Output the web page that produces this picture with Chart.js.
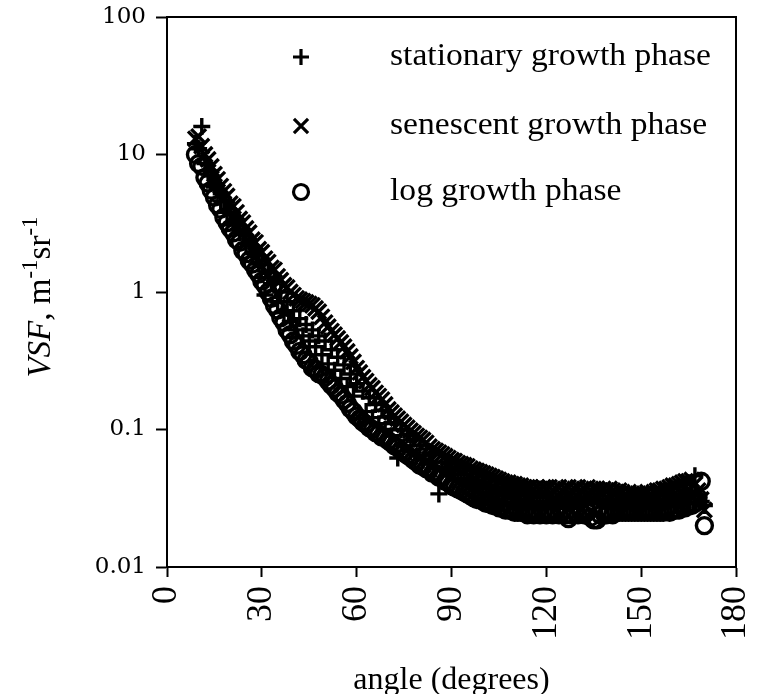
<!DOCTYPE html>
<html>
<head>
<meta charset="utf-8">
<script src="https://cdn.jsdelivr.net/npm/chart.js@4.4.1/dist/chart.umd.min.js"></script>
<style>
  html, body { margin: 0; padding: 0; background: #fff; }
  #chartVsf { display: block; }
</style>
</head>
<body>
<canvas id="chartVsf" width="762" height="694"></canvas>
<script>
// ===========================================
// VSF vs ângulo - três fases de crescimento
// ===========================================

const xTicks = [0, 30, 60, 90, 120, 150, 180];
const yTicks = [0.01, 0.1, 1, 10, 100];
const yTickLabels = ['0.01', '0.1', '1', '10', '100'];

const seriesNames = ['stationary growth phase', 'senescent growth phase', 'log growth phase'];

// ângulos medidos (graus), comuns às três séries
const angleDeg = [
    9, 10, 11, 12, 13, 14, 15, 16, 17, 18,
    19, 20, 21, 22, 23, 24, 25, 26, 27, 28,
    29, 30, 31, 32, 33, 34, 35, 36, 37, 38,
    39, 40, 41, 42, 43, 44, 45, 46, 47, 48,
    49, 50, 51, 52, 53, 54, 55, 56, 57, 58,
    59, 60, 61, 62, 63, 64, 65, 66, 67, 68,
    69, 70, 71, 72, 73, 74, 75, 76, 77, 78,
    79, 80, 81, 82, 83, 84, 85, 86, 87, 88,
    89, 90, 91, 92, 93, 94, 95, 96, 97, 98,
    99, 100, 101, 102, 103, 104, 105, 106, 107, 108,
    109, 110, 111, 112, 113, 114, 115, 116, 117, 118,
    119, 120, 121, 122, 123, 124, 125, 126, 127, 128,
    129, 130, 131, 132, 133, 134, 135, 136, 137, 138,
    139, 140, 141, 142, 143, 144, 145, 146, 147, 148,
    149, 150, 151, 152, 153, 154, 155, 156, 157, 158,
    159, 160, 161, 162, 163, 164, 165, 166, 167, 168,
    169, 170];

// stationary (+)
const stationaryVsf = [
    12, 11, 16, 8.6, 7.6, 7.0, 5.8, 5.6, 4.6, 4.6,
    3.8, 3.8, 3.2, 3.2, 2.7, 2.7, 2.25, 2.3, 1.9, 1.95,
    1.6, 1.6, 0.95, 1.4, 1.15, 1.2, 0.85, 1.0, 0.71, 0.85,
    0.61, 0.73, 0.53, 0.64, 0.48, 0.58, 0.44, 0.53, 0.4, 0.48,
    0.35, 0.44, 0.3, 0.38, 0.27, 0.335, 0.235, 0.295, 0.205, 0.253,
    0.175, 0.215, 0.12, 0.19, 0.135, 0.17, 0.122, 0.152, 0.11, 0.138,
    0.1, 0.124, 0.09, 0.112, 0.062, 0.1, 0.075, 0.092, 0.069, 0.085,
    0.064, 0.077, 0.06, 0.072, 0.056, 0.066, 0.052, 0.034, 0.05, 0.058,
    0.05, 0.053, 0.047, 0.05, 0.044, 0.047, 0.042, 0.044, 0.04, 0.042,
    0.038, 0.04, 0.037, 0.039, 0.035, 0.037, 0.034, 0.036, 0.033, 0.035,
    0.032, 0.034, 0.031, 0.033, 0.03, 0.033, 0.03, 0.032, 0.03, 0.033,
    0.03, 0.032, 0.03, 0.032, 0.029, 0.031, 0.03, 0.032, 0.029, 0.031,
    0.03, 0.032, 0.029, 0.031, 0.03, 0.032, 0.029, 0.031, 0.03, 0.031,
    0.029, 0.031, 0.03, 0.031, 0.029, 0.03, 0.029, 0.03, 0.029, 0.03,
    0.029, 0.03, 0.029, 0.03, 0.029, 0.03, 0.03, 0.031, 0.03, 0.031,
    0.031, 0.032, 0.031, 0.033, 0.032, 0.034, 0.033, 0.035, 0.046, 0.033,
    0.03, 0.028];

// senescent (x)
const senescentVsf = [
    13, 13.5, 11.5, 10, 9.2, 8.2, 7.2, 6.6, 5.9, 5.4,
    5.0, 4.4, 4.2, 3.8, 3.4, 3.2, 2.9, 2.7, 2.4, 2.3,
    2.05, 1.95, 1.75, 1.65, 1.5, 1.45, 1.3, 1.22, 1.12, 1.08,
    1.0, 0.95, 0.9, 0.88, 0.86, 0.84, 0.82, 0.8, 0.76, 0.72,
    0.66, 0.6, 0.56, 0.52, 0.49, 0.46, 0.43, 0.4, 0.37, 0.34,
    0.31, 0.28, 0.26, 0.24, 0.225, 0.21, 0.2, 0.185, 0.175, 0.165,
    0.152, 0.14, 0.133, 0.126, 0.12, 0.114, 0.108, 0.103, 0.098, 0.094,
    0.09, 0.087, 0.084, 0.08, 0.075, 0.072, 0.07, 0.068, 0.066, 0.064,
    0.062, 0.06, 0.059, 0.057, 0.056, 0.055, 0.054, 0.052, 0.051, 0.05,
    0.049, 0.048, 0.047, 0.046, 0.045, 0.044, 0.043, 0.042, 0.041, 0.041,
    0.04, 0.04, 0.039, 0.039, 0.038, 0.038, 0.038, 0.037, 0.038, 0.037,
    0.038, 0.037, 0.038, 0.036, 0.037, 0.038, 0.036, 0.037, 0.038, 0.036,
    0.037, 0.038, 0.036, 0.037, 0.038, 0.036, 0.037, 0.037, 0.036, 0.037,
    0.036, 0.037, 0.036, 0.035, 0.036, 0.035, 0.034, 0.035, 0.034, 0.034,
    0.034, 0.034, 0.034, 0.035, 0.034, 0.035, 0.036, 0.036, 0.037, 0.037,
    0.038, 0.039, 0.039, 0.04, 0.041, 0.042, 0.042, 0.043, 0.04, 0.036,
    0.031, 0.026];

// log (o)
const logVsf = [
    10, 8.6, 8.2, 6.8, 6.2, 5.5, 4.9, 4.3, 4.0, 3.5,
    3.2, 2.9, 2.7, 2.4, 2.3, 2.0, 1.9, 1.7, 1.6, 1.45,
    1.35, 1.2, 1.12, 1.0, 0.9, 0.8, 0.74, 0.65, 0.6, 0.53,
    0.49, 0.44, 0.41, 0.37, 0.35, 0.32, 0.31, 0.28, 0.275, 0.255,
    0.25, 0.24, 0.225, 0.21, 0.2, 0.185, 0.178, 0.165, 0.155, 0.142,
    0.135, 0.125, 0.12, 0.113, 0.109, 0.103, 0.1, 0.095, 0.093, 0.088,
    0.087, 0.083, 0.08, 0.076, 0.074, 0.07, 0.068, 0.065, 0.063, 0.06,
    0.058, 0.055, 0.054, 0.052, 0.051, 0.048, 0.048, 0.045, 0.045, 0.042,
    0.041, 0.039, 0.038, 0.037, 0.036, 0.035, 0.034, 0.033, 0.032, 0.031,
    0.031, 0.03, 0.029, 0.029, 0.028, 0.028, 0.027, 0.027, 0.026, 0.026,
    0.026, 0.025, 0.025, 0.025, 0.025, 0.024, 0.025, 0.024, 0.025, 0.024,
    0.025, 0.024, 0.025, 0.024, 0.025, 0.024, 0.025, 0.024, 0.0225, 0.024,
    0.025, 0.024, 0.025, 0.024, 0.025, 0.023, 0.022, 0.022, 0.024, 0.025,
    0.024, 0.025, 0.024, 0.025, 0.025, 0.025, 0.025, 0.025, 0.025, 0.025,
    0.025, 0.025, 0.025, 0.025, 0.025, 0.025, 0.025, 0.025, 0.025, 0.026,
    0.025, 0.026, 0.026, 0.026, 0.027, 0.027, 0.028, 0.028, 0.029, 0.032,
    0.042, 0.02];

const toPoints = (xs, ys) => ys.map((y, i) => ({ x: xs[i], y }));

const serif = '"Liberation Serif", "Times New Roman", serif';

// ============================
// Legenda dentro do gráfico
// ============================
const legendaPlugin = {
    id: 'legendaInterna',
    afterDatasetsDraw(chart) {
        const ctx = chart.ctx;
        const rows = [
            { style: 'cross', r: 8, y: 57 },
            { style: 'crossRot', r: 10, y: 126 },
            { style: 'circle', r: 7.5, y: 192 }
        ];
        ctx.save();
        rows.forEach((row, i) => {
            ctx.strokeStyle = '#000';
            ctx.fillStyle = 'rgba(0,0,0,0)';
            ctx.lineWidth = 3.2;
            Chart.helpers.drawPoint(ctx, { pointStyle: row.style, radius: row.r, rotation: 0, borderWidth: 3.2 }, 301, row.y);
            // texto levemente alargado, como no original
            ctx.save();
            ctx.translate(390, row.y);
            ctx.scale(1.05, 1);
            ctx.fillStyle = '#000';
            ctx.font = '32px ' + serif;
            ctx.textAlign = 'left';
            ctx.textBaseline = 'middle';
            ctx.fillText(seriesNames[i], 0, 0);
            ctx.restore();
        });
        ctx.restore();
    }
};

// ============================
// Moldura + título do eixo Y
// ============================
const molduraPlugin = {
    id: 'moldura',
    afterDraw(chart) {
        const { ctx, chartArea } = chart;
        ctx.save();
        ctx.strokeStyle = '#000';
        ctx.lineWidth = 2;
        ctx.strokeRect(chartArea.left, chartArea.top, chartArea.right - chartArea.left, chartArea.bottom - chartArea.top);

        // VSF, m^-1 sr^-1 (rotacionado)
        const parts = [
            { t: 'VSF', font: 'italic 33px ' + serif, dy: 0 },
            { t: ', m', font: '33px ' + serif, dy: 0 },
            { t: '-1', font: '23px ' + serif, dy: -13 },
            { t: 'sr', font: '33px ' + serif, dy: 0 },
            { t: '-1', font: '23px ' + serif, dy: -13 }
        ];
        let total = 0;
        parts.forEach(p => { ctx.font = p.font; p.w = ctx.measureText(p.t).width; total += p.w; });
        ctx.translate(50, (chartArea.top + chartArea.bottom) / 2 + 5);
        ctx.rotate(-Math.PI / 2);
        ctx.fillStyle = '#000';
        ctx.textBaseline = 'alphabetic';
        ctx.textAlign = 'left';
        let x = -total / 2;
        parts.forEach(p => {
            ctx.font = p.font;
            ctx.fillText(p.t, x, p.dy);
            x += p.w;
        });
        ctx.restore();
    }
};

function renderChartVsf() {
    const ctx = document.getElementById('chartVsf');

    const marker = (style, r) => ({
        pointStyle: style,
        pointRadius: r,
        borderColor: '#000',
        backgroundColor: 'rgba(0,0,0,0)',
        pointBorderWidth: 3.4
    });

    new Chart(ctx.getContext('2d'), {
        type: 'scatter',
        data: {
            datasets: [
                { label: seriesNames[2], data: toPoints(angleDeg, logVsf), ...marker('circle', 8) },
                { label: seriesNames[1], data: toPoints(angleDeg, senescentVsf), ...marker('crossRot', 10.5) },
                { label: seriesNames[0], data: toPoints(angleDeg, stationaryVsf), ...marker('cross', 8.5) }
            ]
        },
        options: {
            responsive: false,
            animation: false,
            layout: { padding: { top: 17, right: 26, left: 0, bottom: 0 } },
            plugins: {
                legend: { display: false },
                tooltip: { enabled: false }
            },
            scales: {
                x: {
                    type: 'linear',
                    min: 0,
                    max: 180,
                    afterBuildTicks: s => { s.ticks = xTicks.map(v => ({ value: v })); },
                    afterFit: s => { s.height = 127; s.paddingLeft = 0; s.paddingRight = 0; },
                    border: { display: true, color: '#000', width: 2 },
                    grid: { drawOnChartArea: false, drawTicks: true, tickLength: 10, tickColor: '#000', tickWidth: 2 },
                    ticks: {
                        autoSkip: false,
                        minRotation: 90,
                        maxRotation: 90,
                        padding: 9,
                        color: '#000',
                        font: { family: serif, size: 36 }
                    },
                    title: {
                        display: true,
                        text: 'angle (degrees)',
                        color: '#000',
                        font: { family: serif, size: 32, lineHeight: 0.85 },
                        padding: { top: 0, bottom: 0 }
                    }
                },
                y: {
                    type: 'logarithmic',
                    min: 0.01,
                    max: 100,
                    afterBuildTicks: s => { s.ticks = yTicks.map(v => ({ value: v })); },
                    afterFit: s => { s.width = 167; s.paddingTop = 0; s.paddingBottom = 0; },
                    border: { display: true, color: '#000', width: 2 },
                    grid: { drawOnChartArea: false, drawTicks: true, tickLength: 11, tickColor: '#000', tickWidth: 2 },
                    ticks: {
                        padding: 10,
                        color: '#000',
                        font: { family: '"DejaVu Serif", serif', size: 23 },
                        callback: (v) => {
                            const i = yTicks.indexOf(v);
                            return i >= 0 ? yTickLabels[i] : '';
                        }
                    }
                }
            }
        },
        plugins: [legendaPlugin, molduraPlugin]
    });
}

renderChartVsf();
</script>
</body>
</html>
